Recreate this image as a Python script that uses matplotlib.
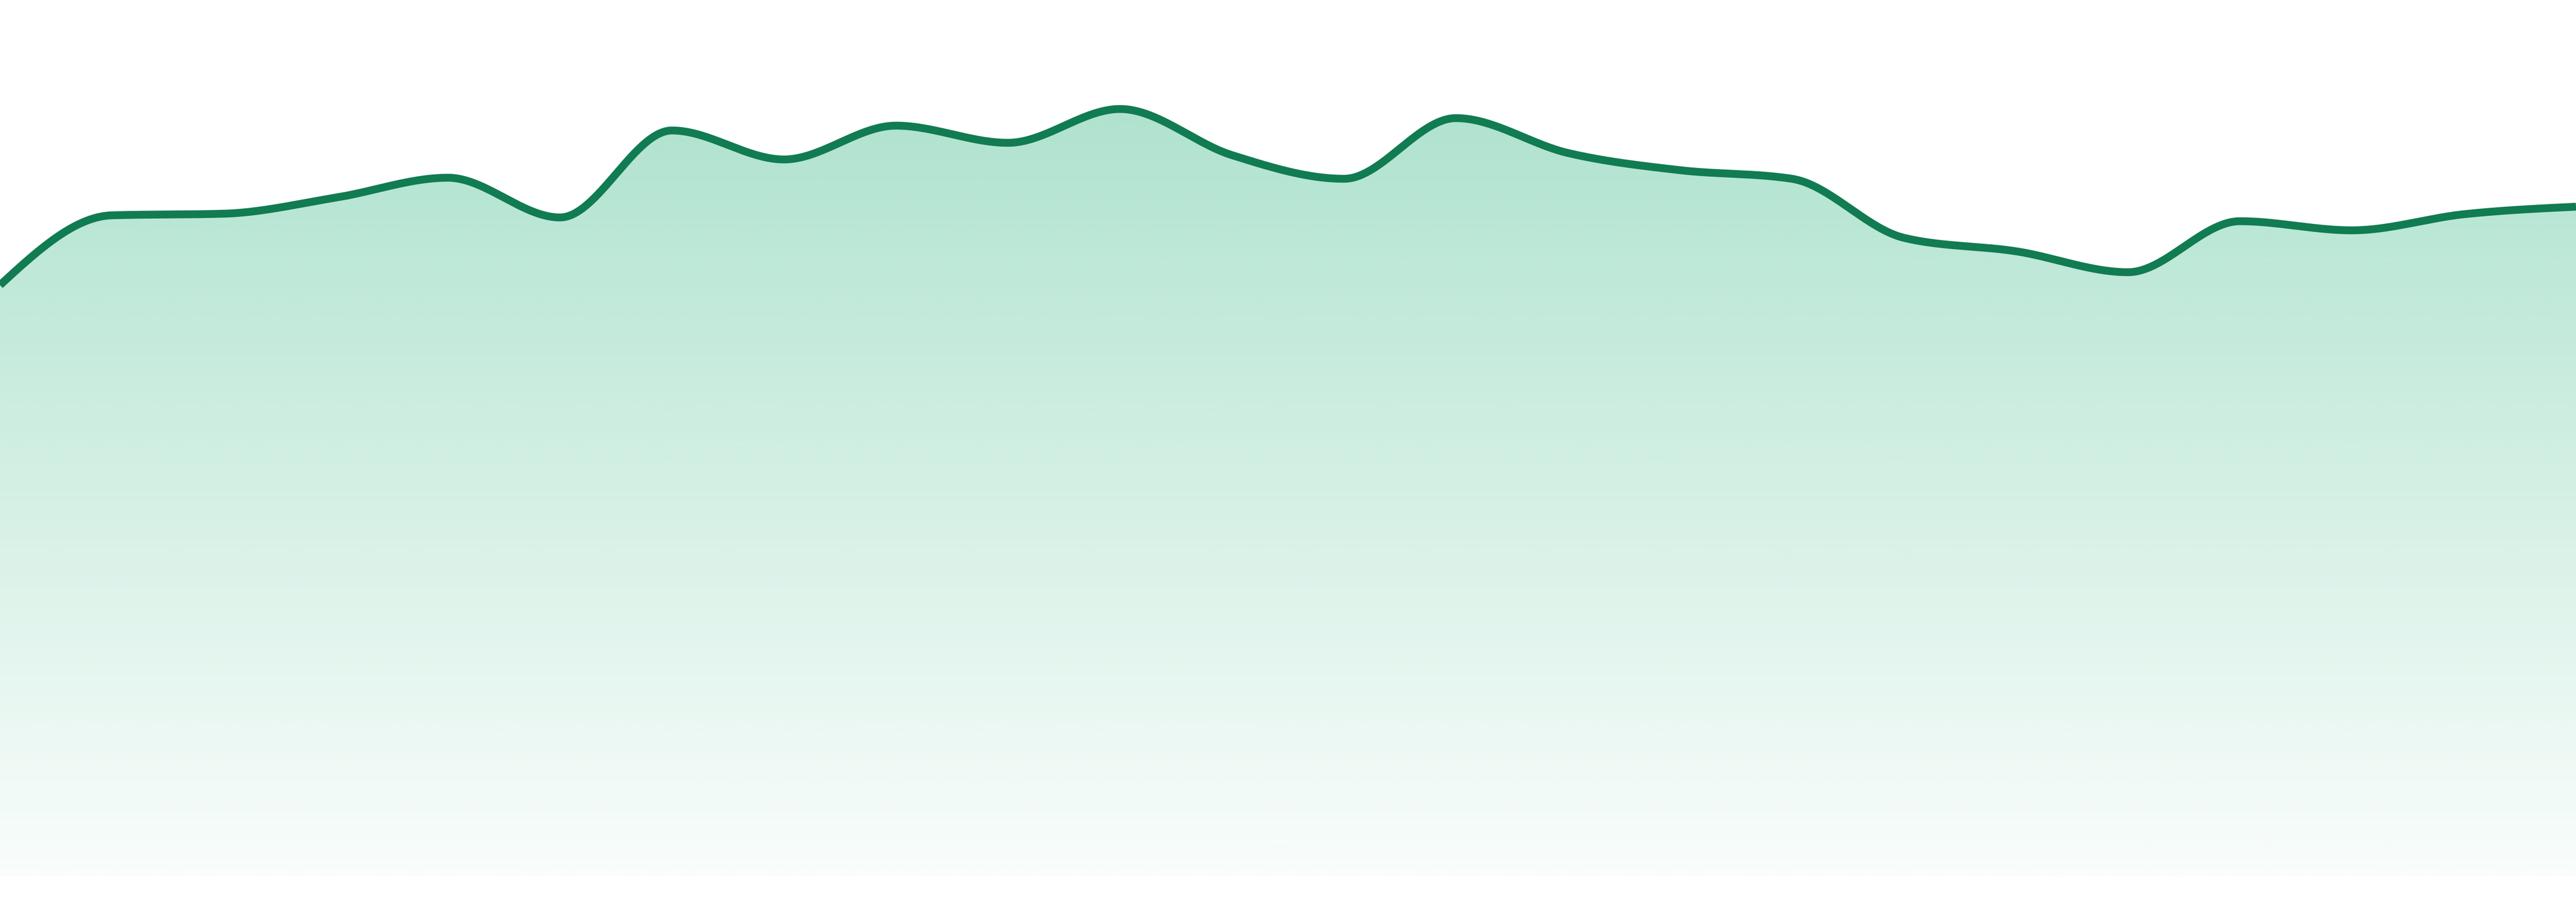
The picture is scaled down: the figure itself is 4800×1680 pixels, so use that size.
"""Smoothed area chart with a vertical gradient fill."""
import matplotlib

matplotlib.use("Agg")
import matplotlib.pyplot as plt
import numpy as np
from matplotlib.colors import to_rgb

FIG_DPI = 100
FIG_W_PX = 4800
FIG_H_PX = 1680
BOTTOM_PAD_PX = 48

LINE_COLOR = "#117b52"
FILL_COLOR = "#10aa6e"
FILL_ALPHA_TOP = 0.335
FILL_ALPHA_BOTTOM = 0.025

# values, one per step
values = [
    110.1, 123.1, 123.4, 126.4, 130.1, 122.7, 138.9, 133.5,
    139.8, 136.6, 142.9, 134.3, 129.9, 141.2, 134.7, 131.5,
    129.9, 118.9, 116.4, 112.5, 122.0, 120.3, 123.3, 124.7,
]
y_min = 0.0
y_max = 163.2
gradient_top = 143.2


def monotone_tangents(x, y):
    """Tangents as in d3.curveMonotoneX (Steffen style)."""
    n = len(x)
    h = np.diff(x)
    s = np.diff(y) / h
    t = np.zeros(n)
    for i in range(1, n - 1):
        h0, h1 = h[i - 1], h[i]
        s0, s1 = s[i - 1], s[i]
        p = (s0 * h1 + s1 * h0) / (h0 + h1)
        t[i] = (np.sign(s0) + np.sign(s1)) * min(abs(s0), abs(s1), 0.5 * abs(p))
    t[0] = (3 * s[0] - t[1]) / 2
    t[-1] = (3 * s[-1] - t[-2]) / 2
    return t


def monotone_curve(x, y, samples=60):
    t = monotone_tangents(x, y)
    xs, ys = [], []
    for i in range(len(x) - 1):
        dx = x[i + 1] - x[i]
        u = np.linspace(0, 1, samples, endpoint=False)
        h00 = 2 * u**3 - 3 * u**2 + 1
        h10 = u**3 - 2 * u**2 + u
        h01 = -2 * u**3 + 3 * u**2
        h11 = u**3 - u**2
        xs.append(x[i] + u * dx)
        ys.append(h00 * y[i] + h10 * dx * t[i] + h01 * y[i + 1] + h11 * dx * t[i + 1])
    xs.append([x[-1]])
    ys.append([y[-1]])
    return np.concatenate(xs), np.concatenate(ys)


x = np.arange(len(values), dtype=float)
y = np.array(values, dtype=float)
cx, cy = monotone_curve(x, y)

fig = plt.figure(figsize=(FIG_W_PX / FIG_DPI, FIG_H_PX / FIG_DPI), dpi=FIG_DPI)
ax = fig.add_axes([0, BOTTOM_PAD_PX / FIG_H_PX, 1, 1 - BOTTOM_PAD_PX / FIG_H_PX])
ax.set_xlim(x[0], x[-1])
ax.set_ylim(y_min, y_max)
ax.axis("off")

# gradient image clipped to the area under the curve
area = ax.fill_between(cx, cy, y_min, facecolor="none", edgecolor="none")
rgb = to_rgb(FILL_COLOR)
grad = np.zeros((256, 1, 4))
grad[:, 0, :3] = rgb
grad[:, 0, 3] = np.linspace(FILL_ALPHA_TOP, FILL_ALPHA_BOTTOM, 256)
img = ax.imshow(
    grad,
    extent=[x[0], x[-1], y_min, gradient_top],
    origin="upper",
    aspect="auto",
    interpolation="bilinear",
    zorder=1,
)
clip = area.get_paths()[0]
img.set_clip_path(clip, transform=ax.transData)

ax.plot(cx, cy, color=LINE_COLOR, linewidth=10.5, solid_capstyle="butt", zorder=2)

fig.savefig("out.png", dpi=FIG_DPI, facecolor="white")
plt.close(fig)
